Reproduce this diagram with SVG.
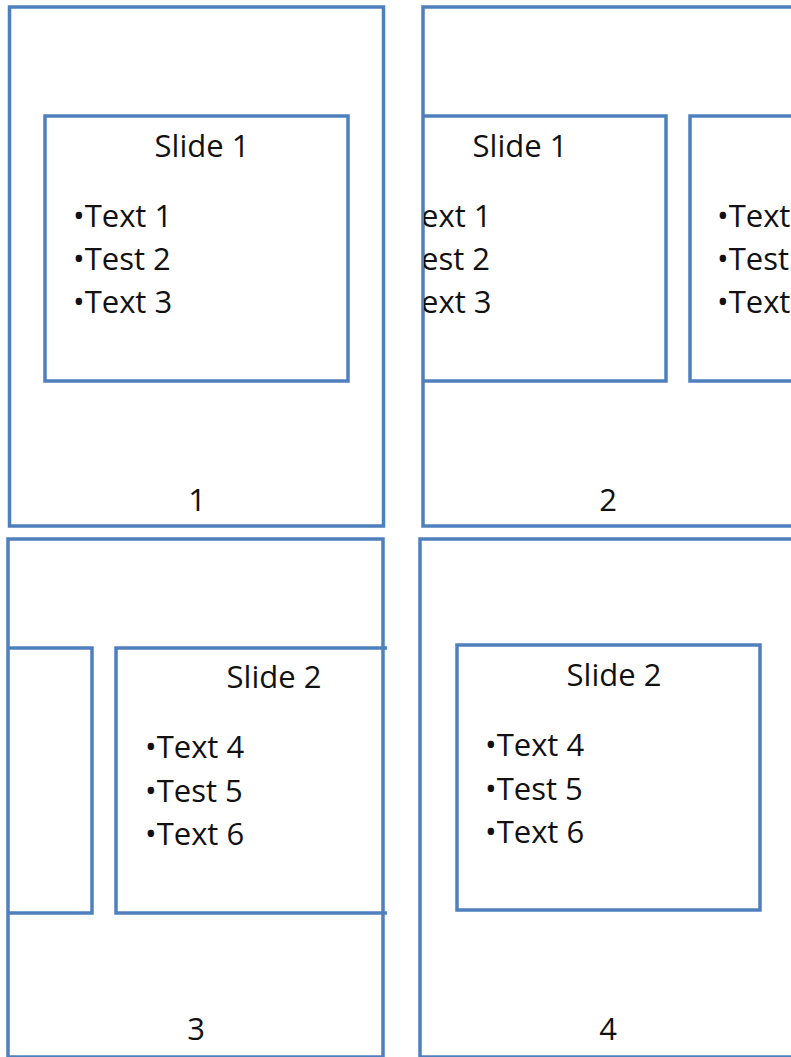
<svg xmlns="http://www.w3.org/2000/svg" width="791" height="1057" viewBox="0 0 791 1057">
<style>
.b{fill:none;stroke:#4f7fbd;stroke-width:3.5}
.t{font-family:"Open Sans","Liberation Sans",sans-serif;font-size:31px;fill:#111}
.m{text-anchor:middle}
</style>
<defs>
<clipPath id="c2"><rect x="424" y="0" width="400" height="530"/></clipPath>
</defs>
<rect width="791" height="1057" fill="#fff"/>
<g id="panel1">
<rect class="b" x="9.5" y="7" width="374" height="519"/>
<rect class="b" x="45" y="116" width="303" height="265"/>
<text class="t m" x="202" y="157">Slide 1</text>
<text class="t" x="73" y="227">•Text 1</text>
<text class="t" x="73" y="270">•Test 2</text>
<text class="t" x="73" y="313">•Text 3</text>
<text class="t m" x="197" y="511">1</text>
</g>
<g id="panel2">
<path class="b" d="M795 7H423V526H795"/>
<path class="b" d="M423 116H666V381H423"/>
<text class="t m" x="520" y="157">Slide 1</text>
<g clip-path="url(#c2)">
<text class="t" x="421" y="227">ext 1</text>
<text class="t" x="421" y="270">est 2</text>
<text class="t" x="421" y="313">ext 3</text>
</g>
<path class="b" d="M795 116H690V381H795"/>
<text class="t" x="717" y="227">•Text</text>
<text class="t" x="717" y="270">•Test</text>
<text class="t" x="717" y="313">•Text</text>
<text class="t m" x="608" y="511">2</text>
</g>
<g id="panel3">
<rect class="b" x="8" y="539" width="375" height="518"/>
<path class="b" d="M8 648H92V913H8"/>
<path class="b" d="M387 648H116V913H387"/>
<text class="t m" x="274" y="688">Slide 2</text>
<text class="t" x="145" y="758">•Text 4</text>
<text class="t" x="145" y="802">•Test 5</text>
<text class="t" x="145" y="845">•Text 6</text>
<text class="t m" x="196" y="1040">3</text>
</g>
<g id="panel4">
<path class="b" d="M795 539H420V1057H795"/>
<rect class="b" x="457" y="645" width="303" height="265"/>
<text class="t m" x="614" y="686">Slide 2</text>
<text class="t" x="485" y="756">•Text 4</text>
<text class="t" x="485" y="800">•Test 5</text>
<text class="t" x="485" y="843">•Text 6</text>
<text class="t m" x="608" y="1040">4</text>
</g>
<g id="connectors"/>
</svg>
